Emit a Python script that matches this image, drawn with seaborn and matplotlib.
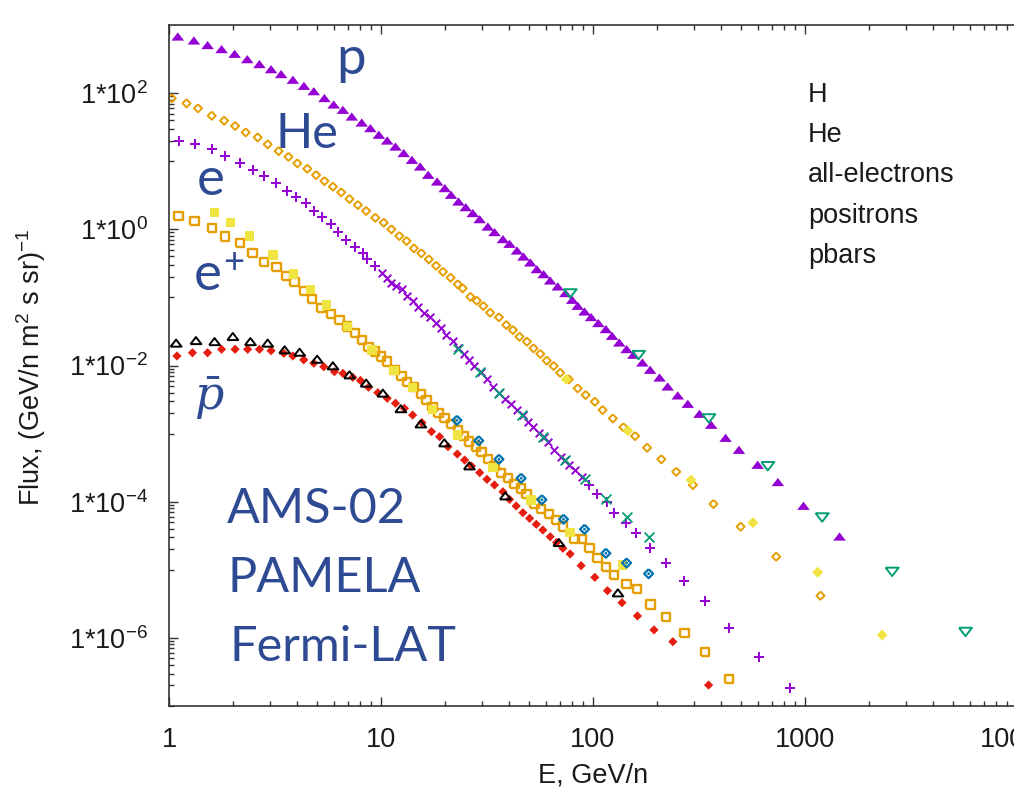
import matplotlib
matplotlib.use("Agg")
import matplotlib.pyplot as plt
import matplotlib.ticker as mticker
import numpy as np
import pandas as pd
import seaborn as sns

# ---------------- data ----------------
# H (protons), filled purple triangles
H_E = [1.10, 1.31, 1.52, 1.77, 2.04, 2.34, 2.67, 3.03, 3.38, 3.84, 4.33, 4.82, 5.41, 5.98, 6.61, 7.28, 8.11, 8.91, 9.77,
       10.7, 11.7, 12.8, 14.0, 15.3, 16.7, 18.4, 20.0, 21.4, 23.2, 25.1, 27.1, 29.2, 31.9, 34.3, 37.6, 40.4, 43.8, 47.0,
       50.6, 54.3, 58.5, 62.8, 68.2, 74.1, 79.8, 84.7, 91.2, 97.9,
       106, 115, 123, 133, 144, 155, 171, 186, 206, 225, 251, 280, 318, 361, 422, 488, 598, 745, 984, 1455]
H_F = [673, 589, 504, 440, 375, 313, 265, 223, 189, 156, 127, 106, 84.0, 67.6, 56.5, 45.0, 36.7, 30.4, 24.3,
       20.0, 16.3, 13.1, 10.4, 8.30, 6.27, 5.00, 4.00, 3.19, 2.54, 2.10, 1.72, 1.40, 1.09, 0.904, 0.713, 0.608, 0.485,
       0.396, 0.324, 0.258, 0.218, 0.176, 0.144, 0.115, 0.0916, 0.0748, 0.0617, 0.0511,
       0.0417, 0.0340, 0.0271, 0.0216, 0.0173, 0.0143, 0.0110, 8.59e-3, 6.62e-3, 4.89e-3, 3.61e-3, 2.72e-3, 1.94e-3,
       1.34e-3, 8.61e-4, 5.74e-4, 3.46e-4, 1.93e-4, 8.65e-5, 3.06e-5]
# H, second data set (open green down-triangles)
H2_E = [78.0, 164, 352, 668, 1205, 2576, 5715]
H2_F = [0.115, 0.0143, 1.68e-3, 3.34e-4, 5.90e-5, 9.38e-6, 1.23e-6]

# He, open orange diamonds
HE_E = [1.03, 1.21, 1.37, 1.59, 1.82, 2.05, 2.30, 2.62, 2.92, 3.29, 3.66, 4.03, 4.49, 4.94, 5.41, 5.93, 6.49, 7.10,
        7.78, 8.51, 9.40, 10.3, 11.2, 12.2, 13.2, 14.3, 15.5, 16.8, 18.2, 19.6, 21.3, 23.0, 24.3, 26.4, 28.3, 30.4,
        32.7, 36.0, 39.0, 41.9, 45.0, 48.8, 52.4, 56.4, 60.5, 65.2, 70.0, 76.9, 84.7, 92.3, 102, 111, 124, 139, 158,
        180, 210, 247, 296, 370, 497, 731, 1183]
HE_F = [84.0, 70.8, 59.8, 46.6, 39.4, 32.9, 26.5, 22.4, 17.7, 14.1, 11.6, 9.31, 7.76, 6.27, 5.12, 4.23, 3.49, 2.79,
        2.28, 1.86, 1.48, 1.25, 1.00, 0.798, 0.673, 0.526, 0.445, 0.362, 0.292, 0.238, 0.195, 0.156, 0.136, 0.102,
        0.0895, 0.0748, 0.0597, 0.0511, 0.0394, 0.0332, 0.0265, 0.0224, 0.0179, 0.0148, 0.0118, 9.84e-3, 7.83e-3,
        6.27e-3, 4.62e-3, 3.69e-3, 2.94e-3, 2.22e-3, 1.67e-3, 1.24e-3, 9.20e-4, 6.21e-4, 4.20e-4, 2.75e-4, 1.76e-4,
        9.25e-5, 4.30e-5, 1.56e-5, 4.17e-6]
# He, filled yellow diamonds
HE2_E = [74.8, 146, 290, 568, 1148, 2312]
HE2_F = [6.27e-3, 1.10e-3, 2.08e-4, 4.92e-5, 9.18e-6, 1.10e-6]

# all-electrons, purple plus
EL_PLUS_E = [1.11, 1.32, 1.59, 1.84, 2.17, 2.48, 2.80, 3.21, 3.61, 3.98, 4.41, 4.85, 5.28, 5.78, 6.25, 6.85, 7.50,
             8.20, 8.61, 9.40,
             96.2, 105, 116, 126, 143, 160, 186, 220, 270, 339, 437, 610, 851]
EL_PLUS_F = [20.0, 17.7, 15.1, 11.9, 9.31, 7.43, 6.07, 4.73, 3.69, 2.95, 2.41, 1.87, 1.50, 1.18, 0.904, 0.697, 0.556,
             0.453, 0.362, 0.289,
             1.76e-4, 1.30e-4, 1.00e-4, 6.89e-5, 4.82e-5, 3.51e-5, 2.07e-5, 1.26e-5, 6.92e-6, 3.48e-6, 1.38e-6,
             5.19e-7, 1.86e-7]
# all-electrons, purple crosses
EL_X_E = [10.1, 10.7, 11.2, 11.8, 12.5, 13.3, 14.1, 15.0, 16.0, 17.0, 18.1, 19.2, 20.3, 21.8, 23.0, 24.5, 26.1, 27.6,
          29.5, 31.5, 33.7, 36.1, 38.6, 41.1, 43.7, 46.5, 49.2, 52.0, 55.5, 58.5, 61.2, 65.8, 70.8, 73.8, 76.9, 81.8,
          88.9]
EL_X_F = [0.231, 0.193, 0.164, 0.147, 0.131, 0.105, 0.0885, 0.0723, 0.0600, 0.0507, 0.0421, 0.0352, 0.0281, 0.0229,
          0.0181, 0.0148, 0.0121, 9.84e-3, 8.04e-3, 6.34e-3, 4.79e-3, 3.94e-3, 3.19e-3, 2.72e-3, 2.22e-3, 1.85e-3,
          1.50e-3, 1.26e-3, 1.03e-3, 8.91e-4, 7.60e-4, 5.74e-4, 4.58e-4, 4.03e-4, 3.46e-4, 2.92e-4, 2.33e-4]
# all-electrons, green crosses
EL2_E = [23.0, 29.2, 36.0, 46.3, 58.0, 73.4, 91.2, 115, 144, 183]
EL2_F = [0.0173, 8.11e-3, 3.91e-3, 1.87e-3, 9.00e-4, 4.09e-4, 2.13e-4, 1.11e-4, 5.96e-5, 3.00e-5]

# positrons, open orange squares
POS_E = [1.11, 1.32, 1.59, 1.84, 2.17, 2.48, 2.80, 3.21, 3.57, 3.91, 4.36, 4.73, 5.22, 5.82, 6.37, 6.93, 7.55, 8.11,
         8.73, 9.40, 10.0, 10.7, 11.6, 12.5, 13.3, 14.3, 15.4, 16.4, 17.5, 18.7, 19.9, 21.4, 23.0, 24.5, 26.1, 28.1,
         29.8, 31.9, 34.3, 36.9, 39.6, 42.7, 45.8, 48.6, 53.0, 57.0, 61.9, 67.0, 72.1, 81.8, 88.9, 96.2, 105, 115,
         126, 144, 161, 187, 221, 270, 338, 437]
POS_F = [1.57, 1.32, 1.04, 0.780, 0.624, 0.445, 0.334, 0.277, 0.206, 0.167, 0.125, 0.0948, 0.0692, 0.0570, 0.0466,
         0.0372, 0.0297, 0.0237, 0.0189, 0.0160, 0.0135, 0.0114, 8.59e-3, 7.02e-3, 5.78e-3, 4.79e-3, 3.81e-3, 3.11e-3,
         2.48e-3, 1.99e-3, 1.69e-3, 1.38e-3, 1.11e-3, 9.23e-4, 7.66e-4, 6.43e-4, 5.37e-4, 4.20e-4, 3.34e-4, 2.61e-4,
         2.21e-4, 1.82e-4, 1.57e-4, 1.30e-4, 9.42e-5, 7.74e-5, 6.59e-5, 5.38e-5, 4.30e-5, 2.81e-5, 2.81e-5, 2.07e-5,
         1.48e-5, 1.11e-5, 8.39e-6, 6.19e-6, 5.18e-6, 3.11e-6, 2.05e-6, 1.17e-6, 6.15e-7, 2.47e-7]
# positrons, filled yellow squares
POS2_E = [1.64, 1.95, 2.40, 3.09, 3.86, 4.65, 5.52, 6.93, 9.05, 11.5, 14.1, 17.5, 23.0, 33.7, 51.1, 78.0, 138]
POS2_F = [1.75, 1.25, 0.798, 0.420, 0.221, 0.131, 0.0773, 0.0372, 0.0169, 8.39e-3, 4.79e-3, 2.28e-3, 9.53e-4,
          3.20e-4, 1.06e-4, 3.51e-5, 1.17e-5]
# positrons, blue open markers
POS3_E = [22.8, 28.9, 36.0, 45.8, 57.4, 72.6, 91.2, 115, 144, 183]
POS3_F = [1.57e-3, 7.87e-4, 4.20e-4, 2.21e-4, 1.07e-4, 5.52e-5, 3.94e-5, 1.75e-5, 1.26e-5, 8.77e-6]

# pbars, filled red diamonds
PB_E = [1.09, 1.29, 1.52, 1.77, 2.05, 2.35, 2.67, 3.03, 3.48, 3.84, 4.32, 4.82, 5.37, 6.03, 6.61, 7.36, 8.00, 8.73,
        9.66, 10.7, 11.7, 12.9, 14.1, 15.6, 17.3, 18.9, 20.7, 22.9, 24.8, 26.7, 29.2, 31.6, 34.3, 37.6, 40.4, 43.4,
        46.7, 50.2, 54.0, 58.0, 62.8, 67.3, 72.1, 78.0, 87.9, 102, 117, 137, 162, 194, 238, 351]
PB_F = [0.0138, 0.0154, 0.0154, 0.0173, 0.0173, 0.0173, 0.0173, 0.0165, 0.0151, 0.0138, 0.0121, 0.0108, 9.60e-3,
        8.11e-3, 7.67e-3, 6.71e-3, 6.03e-3, 4.79e-3, 3.99e-3, 3.30e-3, 2.79e-3, 2.35e-3, 1.87e-3, 1.45e-3, 1.07e-3,
        9.00e-4, 6.43e-4, 5.01e-4, 4.09e-4, 3.34e-4, 2.67e-4, 2.13e-4, 1.76e-4, 1.40e-4, 1.08e-4, 8.65e-5, 6.89e-5,
        5.70e-5, 4.66e-5, 3.84e-5, 3.06e-5, 2.52e-5, 2.07e-5, 1.71e-5, 1.15e-5, 7.76e-6, 4.93e-6, 3.29e-6, 2.10e-6,
        1.31e-6, 8.79e-7, 2.03e-7]
# pbars, open black triangles
PB2_E = [1.08, 1.34, 1.64, 2.00, 2.42, 2.92, 3.51, 4.13, 5.00, 5.93, 7.10, 8.51, 10.2, 12.4, 15.4, 19.9, 26.1, 38.6,
         69.0, 131]
PB2_F = [0.0212, 0.0231, 0.0223, 0.0265, 0.0223, 0.0212, 0.0169, 0.0156, 0.0123, 9.84e-3, 7.25e-3, 5.48e-3, 3.91e-3,
         2.31e-3, 1.38e-3, 7.28e-4, 3.34e-4, 1.21e-4, 2.50e-5, 4.56e-6]

LEGEND_LABELS = ["H", "He", "all-electrons", "positrons", "pbars"]
Y_TICKS = [1e-6, 1e-4, 1e-2, 1e0, 1e2]
Y_TICK_LABELS = [r"1*10$^{-6}$", r"1*10$^{-4}$", r"1*10$^{-2}$", r"1*10$^{0}$", r"1*10$^{2}$"]
X_TICKS = [1, 10, 100, 1000, 10000]
X_TICK_LABELS = ["1", "10", "100", "1000", "10000"]

# ---------------- styling ----------------
sns.set_theme(style="white")
plt.rcParams["font.family"] = ["Liberation Sans", "DejaVu Sans"]
plt.rcParams["mathtext.default"] = "regular"

W, H = 1014, 801
fig = plt.figure(figsize=(W / 100, H / 100), dpi=100)
fig.patch.set_facecolor("white")
# axes: left edge 169px, right edge ~1017px (just beyond the image), top 25px, bottom 706px
ax = fig.add_axes([169 / W, 1 - 706 / H, (1017 - 169) / W, (706 - 25) / H])
ax.set_facecolor("white")

PURPLE = "#9400D3"
GREEN = "#009E73"
ORANGE = "#E69F00"
YELLOW = "#F0E442"
BLUE = "#0072B2"
RED = "#E51E10"
BLACK = "#000000"
TEXTBLUE = "#2D4A93"

tri_up = [(-1, -0.62), (1, -0.62), (0, 0.68), (-1, -0.62)]
tri_dn = [(-1, 0.62), (1, 0.62), (0, -0.68), (-1, 0.62)]
diamond = [(0, 1), (1, 0), (0, -1), (-1, 0), (0, 1)]
square = [(-1, -1), (1, -1), (1, 1), (-1, 1), (-1, -1)]


def frame(E, F, name):
    return pd.DataFrame({"E": E, "flux": F, "set": name})


def filled(E, F, name, marker, color, s):
    sns.scatterplot(data=frame(E, F, name), x="E", y="flux", marker=marker, s=s,
                    color=color, edgecolor="none", linewidth=0, ax=ax, legend=False)


def hollow(E, F, name, marker, color, s, lw):
    sns.scatterplot(data=frame(E, F, name), x="E", y="flux", marker=marker, s=s,
                    facecolor="none", edgecolor=color, linewidth=lw, ax=ax, legend=False)


def line_art(E, F, name, marker, color, s, lw):
    sns.scatterplot(data=frame(E, F, name), x="E", y="flux", marker=marker, s=s,
                    color=color, linewidth=lw, ax=ax, legend=False)


filled(H_E, H_F, "H", tri_up, PURPLE, 82)
hollow(H2_E, H2_F, "H", tri_dn, GREEN, 88, 1.4)
hollow(HE_E, HE_F, "He", diamond, ORANGE, 34, 1.4)
filled(HE2_E, HE2_F, "He", diamond, YELLOW, 62)
line_art(EL_PLUS_E, EL_PLUS_F, "all-electrons", "+", PURPLE, 52, 1.4)
line_art(EL_X_E, EL_X_F, "all-electrons", "x", PURPLE, 30, 1.4)
line_art(EL2_E, EL2_F, "all-electrons", "x", GREEN, 50, 1.3)
hollow(POS_E, POS_F, "positrons", square, ORANGE, 36, 1.7)
filled(POS2_E, POS2_F, "positrons", square, YELLOW, 46)
hollow(POS3_E, POS3_F, "positrons", diamond, BLUE, 42, 1.6)
filled(POS3_E, POS3_F, "positrons", "o", BLUE, 4)
filled(PB_E, PB_F, "pbars", diamond, RED, 44)
hollow(PB2_E, PB2_F, "pbars", tri_up, BLACK, 62, 1.4)

ax.set_xscale("log")
ax.set_yscale("log")
ax.set_xlim(1, 10000)
ax.set_ylim(1e-7, 1e3)

# ticks
ax.xaxis.set_major_locator(mticker.FixedLocator(X_TICKS))
ax.xaxis.set_major_formatter(mticker.FixedFormatter(X_TICK_LABELS))
ax.xaxis.set_minor_locator(mticker.LogLocator(base=10, subs=np.arange(2, 10), numticks=20))
ax.xaxis.set_minor_formatter(mticker.NullFormatter())
ax.yaxis.set_major_locator(mticker.FixedLocator(Y_TICKS))
ax.yaxis.set_major_formatter(mticker.FixedFormatter(Y_TICK_LABELS))
ax.yaxis.set_minor_locator(mticker.FixedLocator(
    [m * 10.0 ** k for k in (-7, -5, -3, -1, 1) for m in range(1, 10)]))
ax.yaxis.set_minor_formatter(mticker.NullFormatter())

AXC = "#333333"
ax.tick_params(which="both", direction="in", top=True, right=False, bottom=True, left=True,
               color=AXC, width=1.0)
ax.tick_params(which="major", length=6.5)
ax.tick_params(which="minor", length=3.8)
ax.tick_params(axis="x", which="major", pad=15, labelsize=19.5, labelcolor="#1a1a1a")
ax.tick_params(axis="y", which="major", pad=15, labelsize=19.5, labelcolor="#1a1a1a")
for name, sp in ax.spines.items():
    sp.set_color(AXC)
    sp.set_linewidth(1.2)
    sp.set_visible(name != "right")

ax.set_xlabel("E, GeV/n", fontsize=19.5, color="#1a1a1a")
ax.xaxis.set_label_coords(0.5, (706 - 762) / 681)
ax.xaxis.label.set_va("top")
ax.set_ylabel(r"Flux, (GeV/n m$^{2}$ s sr)$^{-1}$", fontsize=19.5, color="#1a1a1a")
ax.yaxis.set_label_coords((48 - 169) / 848, (706 - 367) / 681)


def px(x, y):
    return x / W, 1 - y / H


# legend entries (text-only, as in the reference)
for lab, yb in zip(LEGEND_LABELS, [101.7, 142.0, 182.3, 222.6, 262.9]):
    fig.text(*px(808, yb), lab, fontsize=19.5, color="#1a1a1a", ha="left", va="baseline")

# overlay annotations
ov = dict(color=TEXTBLUE, family="Lato", ha="left", va="baseline")
fig.text(*px(336, 74), "p", fontsize=38, **ov)
fig.text(*px(276, 148), "He", fontsize=35, **ov)
fig.text(*px(197, 195), "e", fontsize=38, **ov)
fig.text(*px(194, 290), "e", fontsize=38, **ov)
fig.text(*px(223, 273), "+", fontsize=26, **ov)
fig.text(*px(194, 410), r"$\bar{\mathit{p}}$", fontsize=33, color=TEXTBLUE, ha="left", va="baseline",
         math_fontfamily="dejavuserif")
fig.text(*px(227, 523), "AMS-02", fontsize=35, **ov)
fig.text(*px(227, 592), "PAMELA", fontsize=35, **ov)
fig.text(*px(229, 661), "Fermi-LAT", fontsize=35, **ov)

fig.savefig("out.png", dpi=100, facecolor="white")
